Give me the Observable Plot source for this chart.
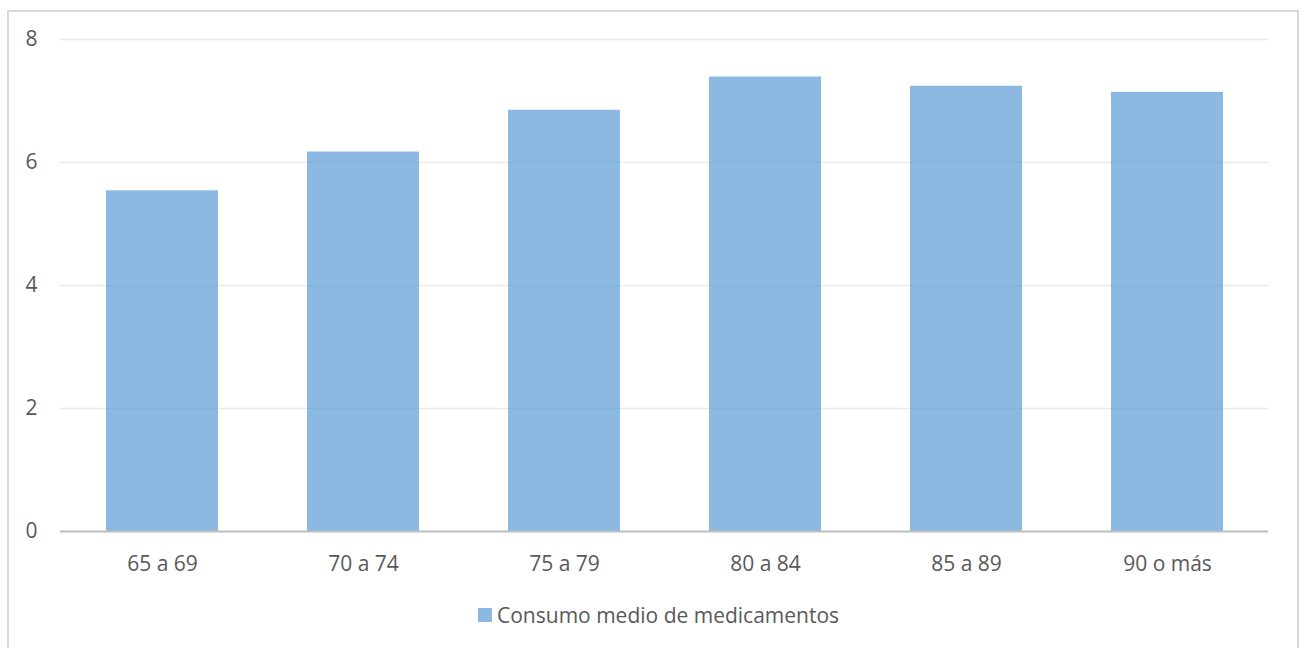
<!DOCTYPE html>
<html>
<head>
<meta charset="utf-8">
<script src="https://cdn.jsdelivr.net/npm/d3@7"></script>
<script src="https://cdn.jsdelivr.net/npm/@observablehq/plot@0.6"></script>
<style>
  html, body { margin: 0; padding: 0; background: #fff; width: 1304px; height: 648px; overflow: hidden; }
  body { position: relative; font-family: "Open Sans", sans-serif; }
  #frame { position: absolute; left: 7px; top: 10px; width: 1288px; height: 700px; border: 2px solid #d9d9d9; box-sizing: content-box; pointer-events: none; }
  #chart { position: absolute; left: 0; top: 0; }
  #legend { position: absolute; left: 478px; top: 601px; display: flex; align-items: center; font-size: 21px; color: #595959; white-space: nowrap; }
  #legend .sw { width: 14px; height: 14px; background: #8cb9e1; margin-right: 5px; }
</style>
</head>
<body>
<div id="frame"></div>
<div id="chart"></div>
<div id="legend"><span class="sw"></span><span id="legendText"></span></div>
<script>
const categories = ["65 a 69", "70 a 74", "75 a 79", "80 a 84", "85 a 89", "90 o más"];
const values = [5.54, 6.17, 6.85, 7.39, 7.24, 7.14];
const yTicks = [0, 2, 4, 6, 8];
const seriesName = "Consumo medio de medicamentos";

const data = categories.map((c, i) => ({ category: c, value: values[i] }));

const chart = Plot.plot({
  width: 1304,
  height: 580,
  marginLeft: 60,
  marginRight: 36,
  marginTop: 39,
  marginBottom: 49,
  style: { fontFamily: "'Open Sans', sans-serif", fontSize: "21px", color: "#595959", background: "transparent" },
  x: { domain: categories, paddingInner: 0.444, paddingOuter: 0.222, label: null },
  y: { domain: [0, 8], label: null },
  marks: [
    Plot.gridY(yTicks, { stroke: "#e9e9e9", strokeOpacity: 1, strokeWidth: 1.5 }),
    Plot.barY(data, { x: "category", y: "value", fill: "#5b9bd5", fillOpacity: 0.7 }),
    Plot.ruleY([0], { stroke: "#bfbfbf", strokeWidth: 2 }),
    Plot.axisY(yTicks, { tickSize: 0, tickPadding: 23, tickFormat: d3.format("d"), fill: "#595959", fontSize: 21, label: null }),
    Plot.axisX({ tickSize: 0, tickPadding: 25, fill: "#595959", fontSize: 21, label: null })
  ]
});
document.getElementById("chart").appendChild(chart);
document.getElementById("legendText").textContent = seriesName;
</script>
</body>
</html>
